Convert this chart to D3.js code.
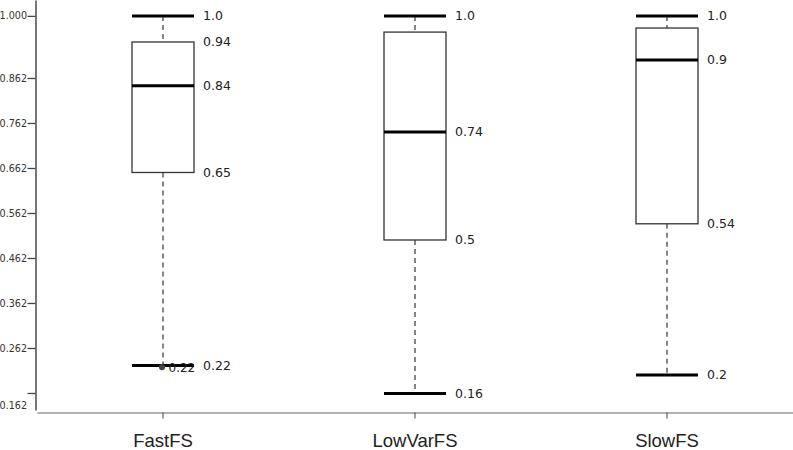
<!DOCTYPE html>
<html>
<head>
<meta charset="utf-8">
<script src="https://cdn.jsdelivr.net/npm/d3@7/dist/d3.min.js"></script>
<style>
  html, body { margin: 0; padding: 0; background: #fff; }
  svg { display: block; }
</style>
</head>
<body>
<svg id="chart" width="793" height="450"></svg>
<script>
// ---- data ----
const categories = ["FastFS", "LowVarFS", "SlowFS"];
const whiskerHigh = [1.0, 1.0, 1.0];
const q3 = [0.942, 0.964, 0.973];
const median = [0.845, 0.742, 0.902];
const q1 = [0.652, 0.502, 0.538];
const whiskerLow = [0.223, 0.161, 0.202];
const highLabels = ["1.0", "1.0", "1.0"];
const q3Labels = ["0.94", "", ""];
const medianLabels = ["0.84", "0.74", "0.9"];
const q1Labels = ["0.65", "0.5", "0.54"];
const lowLabels = ["0.22", "0.16", "0.2"];
const outlierCategory = ["FastFS"];
const outlierValue = [0.219];
const outlierLabels = ["0.22"];
const yTickValues = [1.0, 0.862, 0.762, 0.662, 0.562, 0.462, 0.362, 0.262, 0.162];
const yTickLabels = ["1.000", "0.862", "0.762", "0.662", "0.562", "0.462", "0.362", "0.262", "0.162"];

// ---- layout ----
const svg = d3.select("#chart");
const axisX = 35.5;

const y = d3.scaleLinear().domain([0.1242, 1.0353]).range([410, 0]);
const x = d3.scaleBand().domain(categories).range([37, 793]).paddingInner(0).paddingOuter(0);
const boxW = 62;
const valueFont = "'DejaVu Sans', Verdana, sans-serif";

// y axis
const yAxis = d3.axisLeft(y).tickValues(yTickValues)
  .tickFormat((d, i) => yTickLabels[i]).tickSize(8).tickSizeOuter(0);
const yG = svg.append("g").attr("transform", `translate(${axisX},0)`).call(yAxis);
yG.select(".domain").attr("stroke", "#555").attr("stroke-width", 1.6);
yG.selectAll(".tick line").attr("stroke", "#444").attr("stroke-width", 1.3);
yG.selectAll(".tick text")
  .attr("font-family", valueFont).attr("font-size", "9.6px").attr("fill", "#333").attr("x", -8.5);
// last label displaced below its tick (as in the reference)
yG.selectAll(".tick text").filter((d, i) => i === yTickValues.length - 1).attr("dy", "1.6em");

// x axis
const xAxis = d3.axisBottom(x).tickSize(6).tickSizeOuter(0).tickFormat(d => d);
const xG = svg.append("g").attr("transform", `translate(0,${412.5})`).call(xAxis);
xG.select(".domain").attr("stroke", "#999").attr("stroke-width", 1.3);
xG.selectAll(".tick line").attr("stroke", "#444").attr("stroke-width", 1);
xG.selectAll(".tick text")
  .attr("font-family", "'Liberation Sans', Arial, Helvetica, sans-serif")
  .attr("font-size", "18.5px").attr("fill", "#222").attr("y", 0).attr("dy", 0)
  .attr("transform", "translate(0,34)");

// boxes
const data = categories.map((c, i) => ({
  c, hi: whiskerHigh[i], q3: q3[i], med: median[i], q1: q1[i], lo: whiskerLow[i],
  labels: [highLabels[i], q3Labels[i], medianLabels[i], q1Labels[i], lowLabels[i]]
}));

const g = svg.append("g").selectAll("g").data(data).join("g");
const cx = d => x(d.c) + x.bandwidth() / 2;

// whiskers (dashed)
g.append("line").attr("x1", cx).attr("x2", cx)
  .attr("y1", d => y(d.hi)).attr("y2", d => y(d.q3))
  .attr("stroke", "#222").attr("stroke-width", 1.1).attr("stroke-dasharray", "5,4");
g.append("line").attr("x1", cx).attr("x2", cx)
  .attr("y1", d => y(d.q1)).attr("y2", d => y(d.lo))
  .attr("stroke", "#222").attr("stroke-width", 1.1).attr("stroke-dasharray", "5,4");

// box
g.append("rect")
  .attr("x", d => cx(d) - boxW / 2).attr("width", boxW)
  .attr("y", d => y(d.q3)).attr("height", d => y(d.q1) - y(d.q3))
  .attr("fill", "#fff").attr("stroke", "#333").attr("stroke-width", 1.3);

// median + caps
["hi", "med", "lo"].forEach(k => {
  g.append("line")
    .attr("x1", d => cx(d) - boxW / 2).attr("x2", d => cx(d) + boxW / 2)
    .attr("y1", d => y(d[k])).attr("y2", d => y(d[k]))
    .attr("stroke", "#000").attr("stroke-width", 3);
});

// value labels
const keys = ["hi", "q3", "med", "q1", "lo"];
keys.forEach((k, j) => {
  g.append("text")
    .attr("x", d => cx(d) + boxW / 2 + 9)
    .attr("y", d => y(d[k]))
    .attr("dy", "0.36em")
    .attr("font-family", valueFont).attr("font-size", "12.5px").attr("fill", "#222")
    .text(d => d.labels[j]);
});

// outliers
outlierCategory.forEach((c, i) => {
  const ox = x(c) + x.bandwidth() / 2 - 1;
  svg.append("circle").attr("cx", ox).attr("cy", y(outlierValue[i])).attr("r", 3).attr("fill", "#444");
  svg.append("text").attr("x", ox + 6.5).attr("y", y(outlierValue[i])).attr("dy", "0.36em")
    .attr("font-family", valueFont).attr("font-size", "12px").attr("fill", "#222")
    .text(outlierLabels[i]);
});
</script>
</body>
</html>
